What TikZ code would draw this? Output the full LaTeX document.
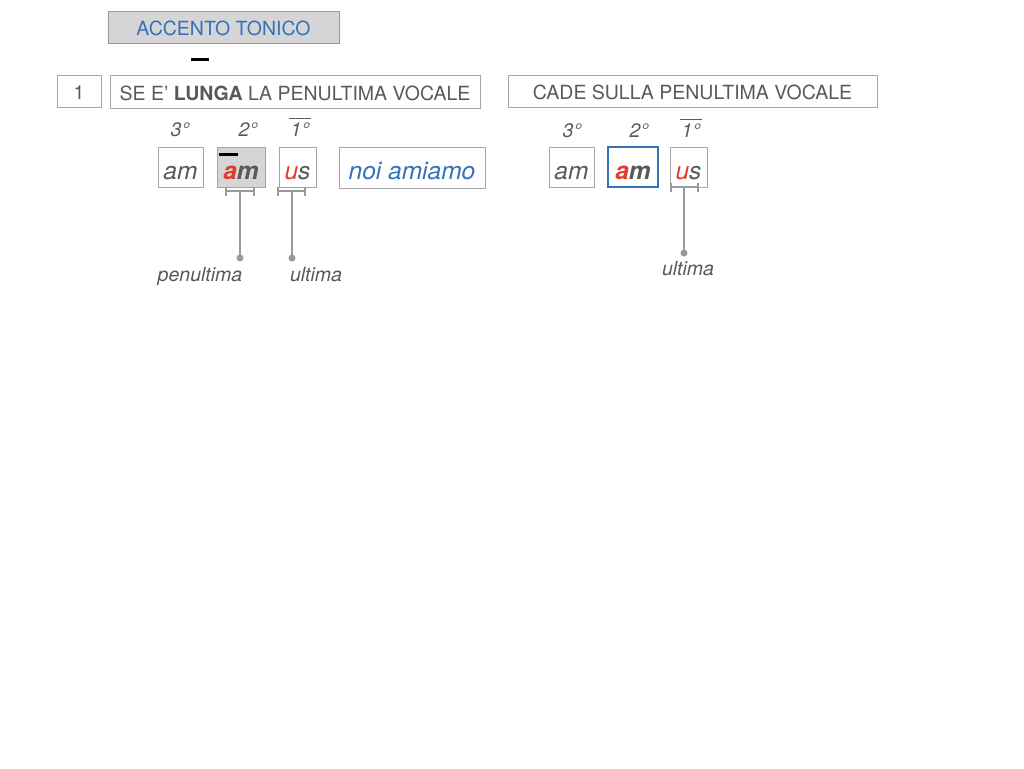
\documentclass[tikz,border=0pt]{standalone}
\usepackage{fontspec}
\setmainfont{TeX Gyre Heros}
\usepackage{xcolor}
\definecolor{txtgray}{HTML}{595959}
\definecolor{boxgray}{HTML}{A6A6A6}
\definecolor{linegray}{HTML}{9A9A9A}
\definecolor{fillgray}{HTML}{D6D5D6}
\definecolor{accred}{HTML}{E03C2C}
\definecolor{accblue}{HTML}{3371BA}
\newcommand{\labfont}{\fontsize{19.5}{23}\selectfont}
\newcommand{\sylfont}{\fontsize{24.5}{28}\selectfont\itshape}
\begin{document}
\begin{tikzpicture}[x=1pt,y=-1pt,
    box/.style={draw=boxgray,line width=0.8pt,inner sep=0pt,text=txtgray},
    wordbox/.style={box,font=\sylfont,minimum height=40pt,text height=24pt,text depth=0pt},
    linebox/.style={box,font=\labfont,text height=17pt,text depth=0pt},
    tag/.style={font=\labfont\itshape,text=txtgray,inner sep=1pt},
    bracket/.style={linegray,line width=1.5pt},
    stem/.style={linegray,line width=1.5pt}]
  \useasboundingbox (0,0) rectangle (1024,768);

  \node[linebox,fill=fillgray,draw=linegray,minimum width=231pt,minimum height=32pt,
    text=accblue] (title) at (223.5,27) {ACCENTO TONICO};
  \fill (191,58) rectangle (209,61);

  \node[linebox,minimum width=44pt,minimum height=32pt] (num) at (79,91) {1};
  \node[linebox,minimum width=370pt,minimum height=33pt] (rule) at (295,91.5)
    {SE E’ \textbf{LUNGA} LA PENULTIMA VOCALE};
  \node[linebox,minimum width=369pt,minimum height=32pt] (result) at (692.5,91)
    {CADE SULLA PENULTIMA VOCALE};

  % left word
  \node[tag,anchor=base] (la) at (180,136) {3°};
  \node[tag,anchor=base] (lb) at (248,136) {2°};
  \node[tag,anchor=base] (lc) at (300,136) {1°};
  \draw[txtgray,line width=0.8pt] ([yshift=3]lc.north west) -- ([yshift=3]lc.north east);

  \node[wordbox,minimum width=45pt] (sa) at (180.5,167) {am};
  \node[wordbox,fill=fillgray,minimum width=48pt] (sb) at (241,167)
    {\textbf{\textcolor{accred}{a}m}};
  \node[wordbox,minimum width=37pt] (sc) at (297.5,167)
    {\textcolor{accred}{u}s};
  \node[wordbox,minimum width=146pt,minimum height=41pt,text=accblue] (ex) at (412,167.5)
    {noi amiamo};
  \fill ([shift={(2,6)}]sb.north west) rectangle ([shift={(21,9)}]sb.north west);

  \coordinate (bb) at (240,191);
  \coordinate (db) at (240,258);
  \coordinate (bc) at (292,191);
  \coordinate (dc) at (292,258);
  \draw[bracket] (226,186.5) -- (226,195.5) (226,191) -- (254,191) (254,186.5) -- (254,195.5);
  \draw[bracket] (278,186.5) -- (278,195.5) (278,191) -- (305,191) (305,186.5) -- (305,195.5);
  \draw[stem] (bb) -- (db);
  \draw[stem] (bc) -- (dc);
  \fill[linegray] (db) circle (3.5);
  \fill[linegray] (dc) circle (3.5);
  \node[tag,anchor=base] (pen) at (200,281) {penultima};
  \node[tag,anchor=base] (ult) at (316,281) {ultima};

  % right word
  \node[tag,anchor=base] (ra) at (572,137) {3°};
  \node[tag,anchor=base] (rb) at (639,137) {2°};
  \node[tag,anchor=base] (rc) at (691,137) {1°};
  \draw[txtgray,line width=0.8pt] ([yshift=3]rc.north west) -- ([yshift=3]rc.north east);

  \node[wordbox,minimum width=45pt] (ta) at (571.5,167) {am};
  \node[wordbox,draw=accblue,line width=1.6pt,minimum width=50pt] (tb) at (633,167)
    {\textbf{\textcolor{accred}{a}m}};
  \node[wordbox,minimum width=37pt] (tc) at (688.5,167)
    {\textcolor{accred}{u}s};

  \coordinate (bt) at (684,187);
  \coordinate (dt) at (684,253);
  \draw[bracket] (671,182.5) -- (671,191.5) (671,187) -- (698,187) (698,182.5) -- (698,191.5);
  \draw[stem] (bt) -- (dt);
  \fill[linegray] (dt) circle (3.5);
  \node[tag,anchor=base] (ult2) at (688,275) {ultima};
\end{tikzpicture}
\end{document}
